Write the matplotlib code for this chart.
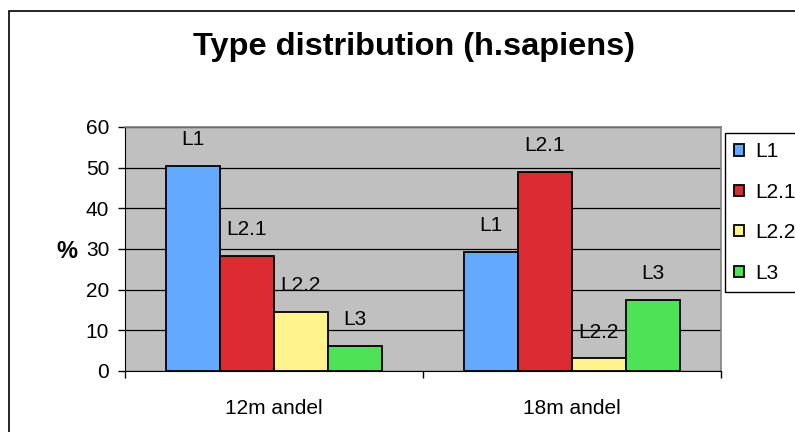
import matplotlib
matplotlib.use("Agg")
import matplotlib.pyplot as plt
import matplotlib.patches as patches
import numpy as np

plt.rcParams['font.family'] = ['Liberation Sans', 'DejaVu Sans']

# ------------------ DADOS ------------------ #
grupos = ["12m andel", "18m andel"]
series = ["L1", "L2.1", "L2.2", "L3"]
valores_L1 = [50.5, 29.2]
valores_L21 = [28.4, 48.9]
valores_L22 = [14.5, 3.1]
valores_L3 = [6.1, 17.4]
cores = ["#63A9FF", "#DD2B33", "#FFF38E", "#4EE257"]

valores = [valores_L1, valores_L21, valores_L22, valores_L3]

# ------------------ FIGURA ------------------ #
fig = plt.figure(figsize=(7.95, 4.32), dpi=100)
ax = fig.add_axes([124.5 / 795, 61 / 432, 596.5 / 795, 244 / 432])
ax.set_facecolor("#C0C0C0")

x = np.arange(len(grupos))
largura = 0.181
for i, (nome, vals, cor) in enumerate(zip(series, valores, cores)):
    pos = x + (i - 1.5) * largura
    ax.bar(pos, vals, largura, color=cor, edgecolor="black", linewidth=1.3,
           label=nome, zorder=3)
    for px, v in zip(pos, vals):
        ax.annotate(nome, (px, v), xytext=(0, 19), textcoords="offset points",
                    ha="center", va="center", fontsize=15, zorder=4)

ax.set_xlim(-0.5, 1.5)
ax.set_ylim(0, 60)
ax.set_yticks(range(0, 61, 10))
ax.yaxis.grid(True, color="black", linewidth=0.9, zorder=1)
ax.set_axisbelow(True)
ax.tick_params(axis="y", labelsize=15, direction="out", length=5, width=1, pad=6)

ax.set_xticks(x)
ax.set_xticklabels(grupos, fontsize=15)
ax.set_xticks([-0.5, 0.5, 1.5], minor=True)
ax.tick_params(axis="x", which="major", length=0, pad=20)
ax.tick_params(axis="x", which="minor", length=5, width=1, direction="out")

for lado in ["top", "right"]:
    ax.spines[lado].set_color("#808080")
    ax.spines[lado].set_linewidth(1.2)
ax.spines["left"].set_color("black")
ax.spines["bottom"].set_color("black")

fig.text(67 / 795, 1 - 251 / 432, "%", ha="center", va="center",
         fontsize=17, fontweight="bold")

fig.text(414 / 795, 1 - 47 / 432, "Type distribution (h.sapiens)", ha="center",
         va="center", fontsize=23.4, fontweight="bold")

leg = ax.legend(loc="upper left", bbox_to_anchor=(725 / 795, 1 - 133 / 432),
                bbox_transform=fig.transFigure, borderaxespad=0, fontsize=15,
                fancybox=False, edgecolor="black", framealpha=1,
                handlelength=0.45, handleheight=0.45, handletextpad=0.55,
                labelspacing=1.03, borderpad=0.45)
leg.get_frame().set_linewidth(1)

# moldura do grafico
moldura = patches.Rectangle((8.5 / 795, -0.1), 1.5, 1.1 - 11 / 432,
                            transform=fig.transFigure, fill=False,
                            edgecolor="black", linewidth=1.2)
fig.patches.append(moldura)

fig.savefig("out.png", dpi=100)
